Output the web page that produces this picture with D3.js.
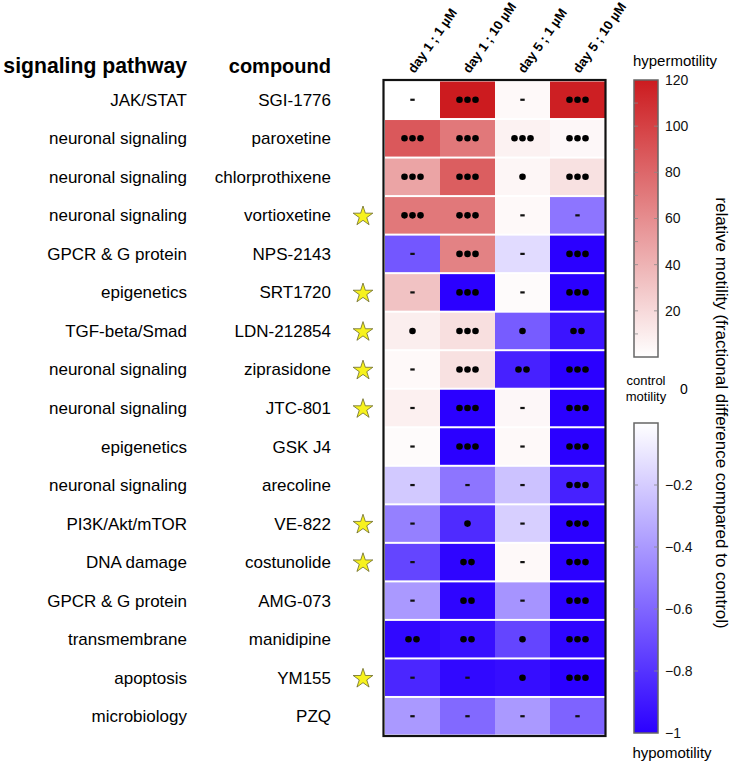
<!DOCTYPE html>
<html><head><meta charset="utf-8">
<script src="https://cdn.jsdelivr.net/npm/d3@7"></script>
<style>
html,body{margin:0;padding:0;background:#fff;}
svg{display:block;font-family:"Liberation Sans",Arial,Helvetica,sans-serif;}
</style></head>
<body><svg id="chart" width="733" height="763"></svg>
<script>
const pathways = ["JAK/STAT","neuronal signaling","neuronal signaling","neuronal signaling","GPCR & G protein","epigenetics","TGF-beta/Smad","neuronal signaling","neuronal signaling","epigenetics","neuronal signaling","PI3K/Akt/mTOR","DNA damage","GPCR & G protein","transmembrane","apoptosis","microbiology"];
const compounds = ["SGI-1776","paroxetine","chlorprothixene","vortioxetine","NPS-2143","SRT1720","LDN-212854","ziprasidone","JTC-801","GSK J4","arecoline","VE-822","costunolide","AMG-073","manidipine","YM155","PZQ"];
const conditions = ["day 1 ; 1 µM","day 1 ; 10 µM","day 5 ; 1 µM","day 5 ; 10 µM"];
const starred = ["vortioxetine","SRT1720","LDN-212854","ziprasidone","JTC-801","VE-822","costunolide","YM155"];
// positive values: hypermotility (% scale 0..120); negative values: fractional hypomotility (0..-1)
const day1_1uM  = [0, 88, 48, 71, -0.66, 32, 9, 3, 8, 2, -0.21, -0.5, -0.73, -0.4, -0.97, -0.85, -0.4];
const day1_10uM = [120, 71, 85, 71, 66, -1, 17, 16, -1, -1, -0.54, -0.83, -0.98, -0.98, -0.94, -0.97, -0.59];
const day5_1uM  = [3, 7, 5, 3, -0.14, 2, -0.64, -0.87, 4, 3, -0.24, -0.19, 3, -0.42, -0.73, -0.95, -0.4];
const day5_10uM = [118, 4, 16, -0.54, -1, -1, -0.92, -1, -1, -1, -0.87, -1, -1, -1, -0.98, -1, -0.61];
// significance: number of dots (0 = dash)
const sig_day1_1uM  = [0,3,3,3,0,0,1,0,0,0,0,0,0,0,2,0,0];
const sig_day1_10uM = [3,3,3,3,3,3,3,3,3,3,0,1,2,2,2,0,0];
const sig_day5_1uM  = [0,3,1,0,0,0,1,2,0,0,0,0,0,0,1,1,0];
const sig_day5_10uM = [3,3,3,0,3,3,2,3,3,3,3,3,3,3,3,3,0];
const redTicks = [20,40,60,80,100,120];
const blueTicks = [-0.2,-0.4,-0.6,-0.8,-1];

const values = [day1_1uM, day1_10uM, day5_1uM, day5_10uM];
const sigs = [sig_day1_1uM, sig_day1_10uM, sig_day5_1uM, sig_day5_10uM];
const cells = [];
compounds.forEach((c,i)=>conditions.forEach((k,j)=>cells.push({row:c,col:k,v:values[j][i],s:sigs[j][i]})));

const svg = d3.select("#chart");
const x = d3.scaleBand().domain(conditions).range([385,605]);
const y = d3.scaleBand().domain(compounds).range([80.5,735.5]);
const redScale = d3.scaleLinear().domain([0,120]).range(["#ffffff","#cc1b1f"]);
const blueScale = d3.scaleLinear().domain([-1,0]).range(["#2b00ff","#ffffff"]);
const color = v => v >= 0 ? redScale(v) : blueScale(v);

// cells
const g = svg.append("g");
g.selectAll("rect.cell").data(cells).join("rect").attr("class","cell")
  .attr("x",d=>x(d.col)).attr("y",d=>y(d.row)+1)
  .attr("width",x.bandwidth()).attr("height",y.bandwidth()-2)
  .attr("fill",d=>color(d.v));
// markers
cells.forEach(d=>{
  const cx = x(d.col)+x.bandwidth()/2, cy = y(d.row)+y.bandwidth()/2;
  if(d.s===0){
    g.append("rect").attr("x",cx-2.2).attr("y",cy-1.1).attr("width",4.4).attr("height",2.2).attr("fill","#111");
  } else {
    for(let k=0;k<d.s;k++){
      g.append("circle").attr("cx",cx+(k-(d.s-1)/2)*8).attr("cy",cy).attr("r",3.3).attr("fill","#000");
    }
  }
});
// frame
svg.append("rect").attr("x",383.5).attr("y",80).attr("width",222).attr("height",656)
  .attr("fill","none").attr("stroke","#111").attr("stroke-width",2.2);

// column headers
svg.selectAll("text.col").data(conditions).join("text").attr("class","col")
  .attr("transform",d=>`translate(${x(d)+x.bandwidth()/2+2},74) rotate(-55)`)
  .attr("font-size",13.2).attr("font-weight","bold").text(d=>d);

// left headers
svg.append("text").attr("x",187).attr("y",73).attr("text-anchor","end").attr("font-size",21.2).attr("font-weight","bold").text("signaling pathway");
svg.append("text").attr("x",331).attr("y",73).attr("text-anchor","end").attr("font-size",20).attr("font-weight","bold").text("compound");
// row labels
svg.selectAll("text.pw").data(compounds).join("text").attr("class","pw")
  .attr("x",187).attr("y",d=>y(d)+y.bandwidth()/2+6).attr("text-anchor","end").attr("font-size",17)
  .text((d,i)=>pathways[i]);
svg.selectAll("text.cp").data(compounds).join("text").attr("class","cp")
  .attr("x",331).attr("y",d=>y(d)+y.bandwidth()/2+6).attr("text-anchor","end").attr("font-size",17)
  .text(d=>d);
// stars
const star = d3.symbol().type(d3.symbolStar).size(120);
svg.selectAll("path.star").data(starred).join("path").attr("class","star")
  .attr("transform",d=>`translate(363,${y(d)+y.bandwidth()/2+1})`)
  .attr("d",star).attr("fill","#f7f21e").attr("stroke","#6b6a2a").attr("stroke-width",0.8);

// colorbars
const defs = svg.append("defs");
const gr = defs.append("linearGradient").attr("id","gRed").attr("x1",0).attr("y1",1).attr("x2",0).attr("y2",0);
d3.range(0,121,10).forEach(v=>gr.append("stop").attr("offset",v/120).attr("stop-color",redScale(v)));
const gb = defs.append("linearGradient").attr("id","gBlue").attr("x1",0).attr("y1",0).attr("x2",0).attr("y2",1);
d3.range(0,1.01,0.1).forEach(v=>gb.append("stop").attr("offset",v).attr("stop-color",blueScale(-v)));

const cbx = 634, cbw = 24;
const yRed = d3.scaleLinear().domain([0,120]).range([357,80]);
const yBlue = d3.scaleLinear().domain([0,-1]).range([423,733]);
svg.append("rect").attr("x",cbx).attr("y",80).attr("width",cbw).attr("height",277).attr("fill","url(#gRed)").attr("stroke","#666").attr("stroke-width",1.5);
svg.append("rect").attr("x",cbx).attr("y",423).attr("width",cbw).attr("height",310).attr("fill","url(#gBlue)").attr("stroke","#666").attr("stroke-width",1.5);

const axR = d3.axisRight(yRed).tickValues(redTicks).tickSize(0).tickPadding(7);
const gR = svg.append("g").attr("transform",`translate(${cbx+cbw},0)`).call(axR);
gR.select(".domain").remove();
gR.selectAll("text").attr("font-size",14).attr("fill","#111").attr("font-family","Liberation Sans, Arial, sans-serif");
const axB = d3.axisRight(yBlue).tickValues(blueTicks).tickFormat(d3.format("")).tickSize(0).tickPadding(7);
const gB = svg.append("g").attr("transform",`translate(${cbx+cbw},0)`).call(axB);
gB.select(".domain").remove();
gB.selectAll("text").attr("font-size",14).attr("fill","#111").attr("font-family","Liberation Sans, Arial, sans-serif");
// small ticks inside bars
svg.selectAll("line.rt").data(d3.range(10,120,10)).join("line").attr("class","rt")
  .attr("x1",cbx).attr("x2",cbx+4).attr("y1",d=>yRed(d)).attr("y2",d=>yRed(d)).attr("stroke","#888").attr("stroke-width",0.8);
svg.selectAll("line.rt2").data(redTicks.slice(0,-1)).join("line").attr("class","rt2")
  .attr("x1",cbx+cbw-4).attr("x2",cbx+cbw).attr("y1",d=>yRed(d)).attr("y2",d=>yRed(d)).attr("stroke","#888").attr("stroke-width",0.8);
svg.selectAll("line.bt").data(blueTicks.slice(0,-1)).join("line").attr("class","bt")
  .attr("x1",cbx).attr("x2",cbx+4).attr("y1",d=>yBlue(d)).attr("y2",d=>yBlue(d)).attr("stroke","#888").attr("stroke-width",0.8);
svg.selectAll("line.bt2").data(blueTicks.slice(0,-1)).join("line").attr("class","bt2")
  .attr("x1",cbx+cbw-4).attr("x2",cbx+cbw).attr("y1",d=>yBlue(d)).attr("y2",d=>yBlue(d)).attr("stroke","#888").attr("stroke-width",0.8);

svg.append("text").attr("x",675).attr("y",66).attr("text-anchor","middle").attr("font-size",15).text("hypermotility");
svg.append("text").attr("x",672).attr("y",758).attr("text-anchor","middle").attr("font-size",15).text("hypomotility");
svg.append("text").attr("x",646).attr("y",385).attr("text-anchor","middle").attr("font-size",13).text("control");
svg.append("text").attr("x",646).attr("y",401).attr("text-anchor","middle").attr("font-size",13).text("motility");
svg.append("text").attr("x",684).attr("y",394).attr("text-anchor","middle").attr("font-size",14).text("0");
svg.append("text").attr("transform","translate(716,413) rotate(90)").attr("text-anchor","middle").attr("font-size",17)
  .text("relative motility (fractional difference compared to control)");
</script></body></html>
